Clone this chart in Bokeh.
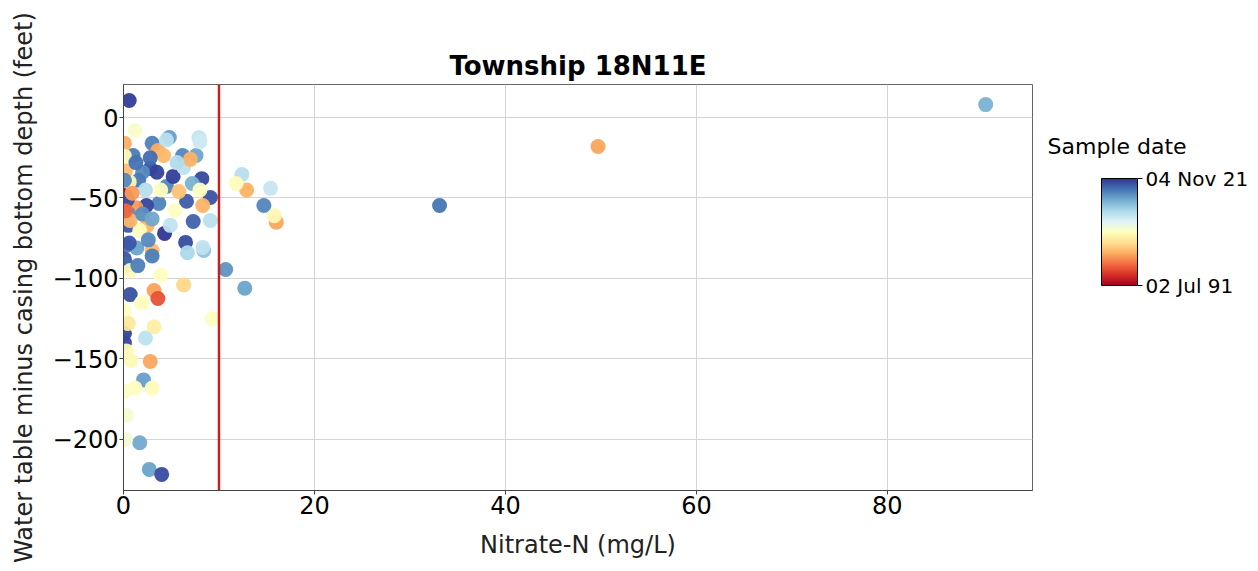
import pandas as pd
from bokeh.plotting import figure
from bokeh.models import (ColumnDataSource, LinearColorMapper, ColorBar, FixedTicker,
                          DatetimeTickFormatter, Span, Range1d)
from bokeh.embed import file_html
from bokeh.resources import INLINE

# ---------------- data ----------------
nitrate = [0.6, 90.3, 49.7, 33.1, 4.8, 7.9, 3.0, 3.6, 4.2, 6.2, 7.6, 1.0, 0.1, 2.8, 3.5, 2.0,
           8.2, 7.2, 4.5, 1.6, 2.3, 0.2, 9.1, 3.7, 2.4, 1.3, 6.6, 5.4, 8.3, 0.5, 0.5, 2.5,
           4.3, 6.5, 7.3, 9.1, 1.4, 3.0, 3.0, 8.4, 8.3, 0.3, 10.7, 12.7, 0.7, 3.2, 3.6, 6.3,
           9.3, 0.1, 0.1, 2.3, 2.8, 0.8, 2.1, 3.0, 1.2, 1.7, 2.7, 4.0, 12.4, 12.9, 15.4, 14.7,
           16.0, 15.8, 11.8, 5.2, 3.9, 0.6, 0.2, 0.1, 0.4, 0.1, 0.1, 0.3, 0.7, 4.9, 6.3, 1.7,
           2.6, 8.0, 4.5, 0.1, 1.2, 8.0, 0.7, 1.5, 3.9, 0.1, 0.3, 0.2, 0.1, 0.5, 2.0, 5.8,
           7.0, 5.6, 1.3, 2.8, 0.9, 0.2, 3.0, 6.7, 0.3, 0.6, 1.9, 3.2]
depth = [10.6, 8.0, -18.0, -54.7, -12.4, -12.4, -16.0, -20.5, -23.6, -23.6, -23.6, -23.6, -16.0,
         -31.7, -34.0, -34.0, -38.0, -41.0, -42.9, -39.0, -45.0, -48.4, -49.7, -53.4, -54.7,
         -56.0, -52.0, -57.8, -54.7, -59.6, -67.0, -67.0, -72.0, -77.6, -64.6, -64.0, -81.0,
         -82.6, -86.0, -82.6, -80.7, -79.5, -94.4, -106.0, -110.0, -107.5, -112.4, -104.0,
         -125.0, -134.0, -140.0, -137.0, -151.5, -151.0, -163.0, -168.0, -168.0, -202.0,
         -218.6, -221.7, -35.4, -45.0, -44.0, -54.7, -65.0, -61.0, -41.0, -36.6, -45.0,
         -40.0, -33.0, -39.0, -51.0, -63.0, -88.0, -92.0, -95.0, -67.0, -31.0, -70.0, -76.0,
         -45.0, -14.0, -24.0, -8.0, -15.0, -64.0, -92.0, -98.0, -170.0, -185.0, -200.0,
         -120.0, -128.0, -60.0, -46.0, -26.0, -28.0, -28.0, -25.0, -47.0, -58.0, -63.0,
         -84.0, -145.0, -78.0, -115.0, -130.0]
sample_date = ["2021-06-15", "2015-05-10", "2000-03-20", "2018-09-01", "2016-08-10", "2011-04-12",
               "2018-02-01", "2000-07-11", "2001-05-03", "2017-10-15", "2016-01-20", "2018-05-06",
               "2000-09-09", "2020-08-19", "2021-03-03", "2017-09-01", "2020-11-11", "2015-06-06",
               "2017-11-30", "2018-07-07", "2012-02-02", "1991-07-02", "2020-05-05", "2018-01-01",
               "2021-01-10", "1999-08-08", "2019-12-12", "2006-11-05", "2001-01-01", "2017-04-04",
               "2020-02-02", "2000-12-12", "2021-11-04", "2020-10-10", "2019-09-09", "2011-11-11",
               "2016-03-03", "2001-06-06", "2018-03-03", "2014-04-04", "2011-07-07", "2018-08-08",
               "2017-02-02", "2016-03-03", "2020-06-06", "2000-01-15", "1996-05-05", "2003-03-03",
               "2006-10-10", "2021-02-02", "2020-12-01", "2011-09-09", "2000-05-05", "2006-04-04",
               "2016-07-07", "2006-06-06", "2006-09-09", "2015-11-11", "2016-05-05", "2020-09-09",
               "2011-12-12", "2000-10-10", "2011-02-02", "2017-10-10", "2000-04-04", "2006-01-01",
               "2006-06-06", "2021-05-05", "2006-08-08", "2006-01-01", "2001-09-09", "2017-10-10",
               "2020-07-07", "2017-12-12", "2020-04-04", "2019-05-05", "2006-02-02", "2011-06-06",
               "2011-08-08", "2006-07-07", "2017-08-08", "2006-11-11", "2011-10-10", "2006-03-03",
               "2007-03-03", "2010-10-10", "2001-03-03", "2018-04-04", "2006-09-09", "2006-12-12",
               "2007-08-08", "2007-10-10", "2006-11-11", "2004-06-06", "2017-06-16", "2001-11-11",
               "2000-11-20", "2012-05-05", "2018-11-11", "2019-03-03", "1999-10-10", "1997-04-04",
               "2016-01-01", "2012-08-08", "2006-04-04", "2020-03-03", "2006-07-07", "2005-02-02"]

date_limits = ["1991-07-02", "2021-11-04"]
y_ticks = [-200, -150, -100, -50, 0]
x_ticks = [0, 20, 40, 60, 80]
nitrate_limit = 10

# RdYlBu (red -> yellow -> blue)
rdylbu = ['#a50026', '#d73027', '#f46d43', '#fdae61', '#fee090', '#ffffbf',
          '#e0f3f8', '#abd9e9', '#74add1', '#4575b4', '#313695']
try:
    from bokeh.palettes import interp_palette
    palette = list(interp_palette(rdylbu, 256))
except Exception:
    palette = rdylbu

FONT = "DejaVu Sans"

dates = pd.to_datetime(sample_date)
lim = pd.to_datetime(date_limits)
low_ms = lim[0].timestamp() * 1000
high_ms = lim[1].timestamp() * 1000

src = ColumnDataSource(dict(x=nitrate, y=depth, t=[d.timestamp() * 1000 for d in dates]))

mapper = LinearColorMapper(palette=palette, low=low_ms, high=high_ms)

p = figure(width=1250, height=563, x_range=Range1d(0, 95.2), y_range=Range1d(-231.7, 20.5),
           output_backend="svg", toolbar_location=None, title="Township 18N11E",
           min_border_left=123, min_border_right=218, min_border_top=84, min_border_bottom=73)

p.title.align = "center"
p.title.text_font = FONT
p.title.text_font_size = "26px"
p.title.text_font_style = "bold"
p.title.text_color = "black"
p.title.offset = 0
p.title.standoff = 8

p.background_fill_color = "white"
p.border_fill_color = "white"
p.outline_line_color = "#666666"

p.xgrid.grid_line_color = "#d4d4d4"
p.ygrid.grid_line_color = "#d4d4d4"

p.xaxis.ticker = FixedTicker(ticks=x_ticks)
p.yaxis.ticker = FixedTicker(ticks=y_ticks)
p.yaxis.major_label_overrides = {v: (("\u2212" + str(abs(v))) if v < 0 else str(v)) for v in y_ticks}

for ax in (p.xaxis[0], p.yaxis[0]):
    ax.axis_line_color = "#444444"
    ax.major_tick_line_color = "#444444"
    ax.major_tick_out = 4
    ax.major_tick_in = 0
    ax.minor_tick_line_color = None
    ax.major_label_text_font = FONT
    ax.major_label_text_font_size = "24px"
    ax.major_label_text_color = "black"
    ax.major_label_standoff = 1
    ax.axis_label_text_font = FONT
    ax.axis_label_text_font_size = "24px"
    ax.axis_label_text_font_style = "normal"
    ax.axis_label_text_color = "#222222"

p.xaxis.axis_label = "Nitrate-N (mg/L)"
p.yaxis.axis_label = "Water table minus casing bottom depth (feet)"
p.xaxis.axis_label_standoff = 14
p.yaxis.axis_label_standoff = 12

p.scatter(x="x", y="y", source=src, size=15,
          fill_color={"field": "t", "transform": mapper}, line_color=None, fill_alpha=0.95)

p.add_layout(Span(location=nitrate_limit, dimension="height", line_color="#c81e1e", line_width=2.5))

fmt = "%d %b %y"
cb = ColorBar(color_mapper=mapper, ticker=FixedTicker(ticks=[low_ms, high_ms]),
              formatter=DatetimeTickFormatter(years=fmt, months=fmt, days=fmt, hours=fmt,
                                              hourmin=fmt, minutes=fmt, minsec=fmt, seconds=fmt,
                                              milliseconds=fmt, microseconds=fmt),
              width=36, height=107, location=(978, 205), padding=0,
              major_label_text_font=FONT, major_label_text_font_size="20px",
              major_label_text_color="black",
              major_tick_out=5, major_tick_in=0, major_tick_line_color="black",
              bar_line_color="black", background_fill_alpha=0, border_line_color=None,
              label_standoff=3)
p.add_layout(cb, "center")

# colour bar heading (a bar-less colour bar that only carries its title)
cb_title = ColorBar(color_mapper=mapper, ticker=FixedTicker(ticks=[]), width=20, height=1,
                    orientation="horizontal",
                    scale_alpha=0, bar_line_color=None, major_tick_line_color=None,
                    major_label_text_alpha=0, location=(924, 331), padding=0,
                    background_fill_alpha=0, border_line_color=None,
                    title="Sample date", title_text_font=FONT, title_text_font_size="22px",
                    title_text_font_style="normal", title_text_color="black", title_standoff=0)
p.add_layout(cb_title, "center")

open("out.html", "w").write(file_html(p, INLINE))
